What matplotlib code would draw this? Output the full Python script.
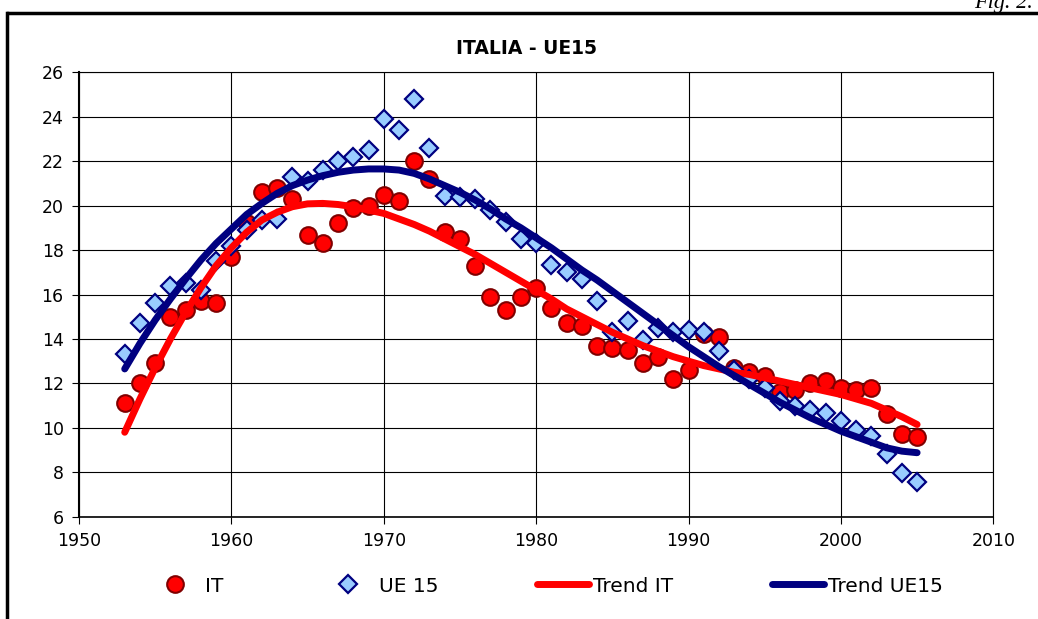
import matplotlib
matplotlib.use("Agg")
import matplotlib.pyplot as plt
from matplotlib.lines import Line2D

years = list(range(1953, 2006))

# IT, observed values
it_vals = [11.1, 12.0, 12.9, 15.0, 15.3, 15.7, 15.6, 17.7, 19.2, 20.6,
           20.8, 20.3, 18.7, 18.3, 19.2, 19.9, 20.0, 20.5, 20.2, 22.0,
           21.2, 18.8, 18.5, 17.3, 15.9, 15.3, 15.9, 16.3, 15.4, 14.7,
           14.6, 13.7, 13.6, 13.5, 12.9, 13.2, 12.2, 12.6, 14.2, 14.1,
           12.7, 12.5, 12.35, 11.6, 11.7, 12.0, 12.1, 11.8, 11.7, 11.8,
           10.6, 9.7, 9.6]

# UE 15, observed values
ue_vals = [13.3, 14.7, 15.6, 16.4, 16.5, 16.2, 17.5, 18.2, 18.9, 19.35,
           19.4, 21.3, 21.1, 21.6, 22.0, 22.2, 22.5, 23.9, 23.4, 24.8,
           22.6, 20.45, 20.4, 20.3, 19.8, 19.25, 18.5, 18.3, 17.35, 17.0,
           16.7, 15.7, 14.3, 14.8, 13.95, 14.5, 14.3, 14.4, 14.3, 13.45,
           12.6, 12.2, 11.8, 11.2, 11.0, 10.8, 10.65, 10.3, 9.9, 9.65,
           8.8, 7.95, 7.55]

# trend lines
trend_it = [9.8, 11.3, 12.7, 14.0, 15.2, 16.3, 17.3, 18.1, 18.8, 19.35,
            19.7, 19.95, 20.08, 20.1, 20.05, 19.95, 19.8, 19.65, 19.4, 19.15,
            18.85, 18.5, 18.15, 17.8, 17.4, 17.0, 16.6, 16.2, 15.8, 15.35,
            15.0, 14.65, 14.3, 14.0, 13.7, 13.45, 13.2, 13.0, 12.8, 12.65,
            12.5, 12.4, 12.25, 12.1, 11.95, 11.8, 11.65, 11.5, 11.3, 11.1,
            10.8, 10.5, 10.15]

trend_ue = [12.65, 13.8, 14.85, 15.8, 16.7, 17.55, 18.3, 18.95, 19.6, 20.1,
            20.55, 20.9, 21.15, 21.35, 21.5, 21.6, 21.65, 21.65, 21.6, 21.45,
            21.2, 20.9, 20.6, 20.25, 19.85, 19.4, 19.0, 18.55, 18.1, 17.6,
            17.1, 16.65, 16.15, 15.65, 15.15, 14.65, 14.15, 13.65, 13.2, 12.75,
            12.35, 11.95, 11.55, 11.15, 10.8, 10.45, 10.15, 9.85, 9.6, 9.35,
            9.1, 8.95, 8.88]

plt.rcParams['font.family'] = ['DejaVu Sans']

fig = plt.figure(figsize=(10.38, 6.19), dpi=100)
W, H = 1038, 619
ax = fig.add_axes([79 / W, 1 - 516.7 / H, (993.3 - 79) / W, (516.7 - 72.3) / H])

ax.plot(years, trend_it, color='#FF0000', lw=5, solid_capstyle='round', zorder=3, label='Trend IT')
ax.plot(years, trend_ue, color='#000080', lw=5, solid_capstyle='round', zorder=3, label='Trend UE15')
ax.plot(years, it_vals, ls='', marker='o', ms=12, mfc='#FF0000', mec='#800000', mew=1.5, zorder=2, label='IT')
ax.plot(years, ue_vals, ls='', marker='D', ms=8.8, mfc='#99CCFF', mec='#000080', mew=1.6, zorder=2, label='UE 15')

ax.set_xlim(1950, 2010)
ax.set_ylim(6, 26)
ax.set_xticks(range(1950, 2011, 10))
ax.set_yticks(range(6, 27, 2))
ax.grid(True, color='black', lw=0.8)
ax.set_axisbelow(True)
ax.tick_params(labelsize=12.5, length=5, width=0.8, direction='out', pad=6)
for s in ax.spines.values():
    s.set_linewidth(0.8)
ax.spines['left'].set_linewidth(1.5)
ax.spines['bottom'].set_linewidth(1.2)

fig.text(527 / W, 1 - 48 / H, 'ITALIA - UE15', ha='center', va='center',
         fontsize=13.5, fontweight='bold')

h, l = ax.get_legend_handles_labels()
order = [2, 3, 0, 1]
fig.legend([h[i] for i in order], [l[i] for i in order], ncol=4, frameon=False,
           loc='center', bbox_to_anchor=(546 / W, 1 - 586 / H), fontsize=14.5,
           numpoints=1, handlelength=2.6, handletextpad=0.2, columnspacing=4.9)

# page frame lines and figure number
fig.add_artist(Line2D([8 / W, 1], [1 - 13 / H, 1 - 13 / H], color='black', lw=2.5,
                      transform=fig.transFigure))
fig.add_artist(Line2D([7 / W, 7 / W], [0, 1 - 13 / H], color='black', lw=2.5,
                      transform=fig.transFigure))
fig.text(1033 / W, 1 - 8 / H, 'Fig. 2.', ha='right', va='baseline',
         fontsize=16, family='Liberation Serif', style='italic')

fig.savefig('out.png', dpi=100)
